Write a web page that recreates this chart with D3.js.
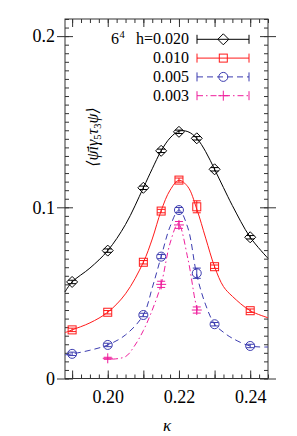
<!DOCTYPE html>
<html>
<head>
<meta charset="utf-8">
<script src="https://cdn.jsdelivr.net/npm/d3@7"></script>
<style>
  body { margin: 0; background: #fff; }
  svg { display: block; }
  svg text { font-family: "Liberation Serif", "DejaVu Serif", serif !important; fill: #000; }
</style>
</head>
<body>
<div id="chart"></div>
<script>
// measured points
var kappa = [0.19, 0.20, 0.21, 0.215, 0.22, 0.225, 0.23, 0.24];
var h020 = [0.0564, 0.0747, 0.1114, 0.1330, 0.1441, 0.1403, 0.1222, 0.0825];
var err020 = [0.001, 0.001, 0.001, 0.001, 0.001, 0.001, 0.001, 0.001];
var h010 = [0.0284, 0.0387, 0.0679, 0.0978, 0.1159, 0.1003, 0.0653, 0.0396];
var err010 = [0.001, 0.001, 0.001, 0.001, 0.0012, 0.0035, 0.001, 0.001];
var h005 = [0.0144, 0.0196, 0.0371, 0.0712, 0.0984, 0.0615, 0.0317, 0.0190];
var err005 = [0.001, 0.001, 0.001, 0.0012, 0.0015, 0.003, 0.001, 0.001];
var kappa003 = [0.20, 0.215, 0.22, 0.225];
var h003 = [0.0118, 0.0550, 0.0897, 0.0400];
var err003 = [0.0006, 0.0018, 0.002, 0.0018];

// fit curves
var fitKappa = [0.188, 0.19, 0.195, 0.20, 0.205, 0.21, 0.2125, 0.215, 0.2175, 0.22,
                0.2225, 0.225, 0.2275, 0.23, 0.2325, 0.235, 0.24, 0.245];
var fit020 = [0.0506, 0.0564, 0.0645, 0.0747, 0.0900, 0.1114, 0.1225, 0.1330, 0.1405, 0.1445,
              0.1442, 0.1403, 0.1325, 0.1222, 0.1115, 0.1010, 0.0825, 0.0702];
var fit010 = [0.0268, 0.0284, 0.0325, 0.0387, 0.0495, 0.0679, 0.0815, 0.0980, 0.1100, 0.1158,
              0.1120, 0.0990, 0.0820, 0.0653, 0.0537, 0.0480, 0.0396, 0.0355];
var fit005 = [0.0138, 0.0144, 0.0165, 0.0196, 0.0255, 0.0371, 0.0530, 0.0712, 0.0887, 0.0984,
              0.0880, 0.0605, 0.0430, 0.0317, 0.0270, 0.0235, 0.0190, 0.0184];
var fitKappa003 = [0.2012, 0.205, 0.2075, 0.21, 0.2125, 0.215, 0.2175, 0.2198, 0.2225, 0.2245, 0.2252];
var fit003 = [0.0113, 0.0128, 0.0190, 0.0280, 0.0400, 0.0550, 0.0790, 0.0905, 0.0700, 0.0460, 0.0400];

var legendLabels = ["h=0.020", "0.010", "0.005", "0.003"];
var xTickLabels = [0.20, 0.22, 0.24];
var yTickLabels = [0, 0.1, 0.2];

var svgWidth = 297;
var svgHeight = 436;
var margin = { top: 19, right: 29, bottom: 57.5, left: 65 };
var width = svgWidth - margin.left - margin.right;
var height = svgHeight - margin.top - margin.bottom;

var svg = d3.select("#chart").append("svg")
  .attr("width", svgWidth)
  .attr("height", svgHeight)
  .attr("font-family", "Liberation Serif");

var chartGroup = svg.append("g")
  .attr("transform", `translate(${margin.left}, ${margin.top})`);

var xScale = d3.scaleLinear().domain([0.188, 0.245]).range([0, width]);
var yScale = d3.scaleLinear().domain([0, 0.21]).range([height, 0]);

// ticks
var xMinor = d3.range(0.19, 0.2451, 0.0025);
var xMajor = d3.range(0.19, 0.2451, 0.01);
var yMinor = d3.range(0, 0.2101, 0.005);
var yMajor = [0, 0.1, 0.2];

function tickAxis(axis, g) {
  g.call(axis);
  g.select(".domain").remove();
  g.selectAll("line").attr("stroke", "#333").attr("stroke-width", 1);
  g.selectAll("text").remove();
}

// bottom / top
tickAxis(d3.axisBottom(xScale).tickValues(xMinor).tickSize(-4),
  chartGroup.append("g").attr("transform", `translate(0, ${height})`));
tickAxis(d3.axisBottom(xScale).tickValues(xMajor).tickSize(-8),
  chartGroup.append("g").attr("transform", `translate(0, ${height})`));
tickAxis(d3.axisTop(xScale).tickValues(xMinor).tickSize(-4), chartGroup.append("g"));
tickAxis(d3.axisTop(xScale).tickValues(xMajor).tickSize(-8), chartGroup.append("g"));

// left / right
tickAxis(d3.axisLeft(yScale).tickValues(yMinor).tickSize(-4), chartGroup.append("g"));
tickAxis(d3.axisLeft(yScale).tickValues(yMajor).tickSize(-8), chartGroup.append("g"));
tickAxis(d3.axisLeft(yScale).tickValues(yMajor).tickSize(8), chartGroup.append("g"));
tickAxis(d3.axisRight(yScale).tickValues(yMinor).tickSize(-4),
  chartGroup.append("g").attr("transform", `translate(${width}, 0)`));
tickAxis(d3.axisRight(yScale).tickValues(yMajor).tickSize(-8),
  chartGroup.append("g").attr("transform", `translate(${width}, 0)`));
tickAxis(d3.axisRight(yScale).tickValues(yMajor).tickSize(8),
  chartGroup.append("g").attr("transform", `translate(${width}, 0)`));

// tick labels
var xLab = chartGroup.append("g")
  .attr("transform", `translate(0, ${height})`)
  .call(d3.axisBottom(xScale).tickValues(xTickLabels).tickSize(0).tickPadding(12)
    .tickFormat(d3.format(".2f")));
xLab.select(".domain").remove();
xLab.attr("font-family", null).attr("font-size", null);
xLab.selectAll("text").style("font-size", "18px");

var yLab = chartGroup.append("g")
  .call(d3.axisLeft(yScale).tickValues(yTickLabels).tickSize(0).tickPadding(10)
    .tickFormat(d => d === 0 ? "0" : d3.format(".1f")(d)));
yLab.select(".domain").remove();
yLab.attr("font-family", null).attr("font-size", null);
yLab.selectAll("text").style("font-size", "18px");

// frame
chartGroup.append("rect")
  .attr("width", width).attr("height", height)
  .attr("fill", "none").attr("stroke", "#333").attr("stroke-width", 1);

var series = [
  { k: kappa, v: h020, e: err020, fk: fitKappa, fv: fit020, color: "#000", dash: null, mark: "diamond" },
  { k: kappa, v: h010, e: err010, fk: fitKappa, fv: fit010, color: "#ff1a1a", dash: null, mark: "square" },
  { k: kappa, v: h005, e: err005, fk: fitKappa, fv: fit005, color: "#3c3cb0", dash: "6,4", mark: "circle" },
  { k: kappa003, v: h003, e: err003, fk: fitKappa003, fv: fit003, color: "#ee1e9c", dash: "6,3,1.5,3", mark: "plus" }
];

var line = d3.line()
  .x(d => xScale(d[0]))
  .y(d => yScale(d[1]))
  .curve(d3.curveCatmullRom.alpha(0.5));

function drawMarker(g, type, color) {
  if (type === "diamond") {
    g.append("path").attr("d", "M0,-5.5L5.5,0L0,5.5L-5.5,0Z");
  } else if (type === "square") {
    g.append("rect").attr("x", -4).attr("y", -4).attr("width", 8).attr("height", 8);
  } else if (type === "circle") {
    g.append("circle").attr("r", 4.5);
  } else {
    g.append("path").attr("d", "M-5,0H5M0,-5V5");
  }
  g.selectAll("path,rect,circle")
    .attr("fill", "none").attr("stroke", color).attr("stroke-width", 1);
}

var plot = chartGroup.append("g");
series.forEach(function(s) {
  plot.append("path")
    .datum(d3.zip(s.fk, s.fv))
    .attr("d", line)
    .attr("fill", "none")
    .attr("stroke", s.color)
    .attr("stroke-width", 1)
    .attr("stroke-dasharray", s.dash);

  var pts = plot.selectAll(null)
    .data(d3.zip(s.k, s.v, s.e))
    .enter().append("g");

  // error bars
  pts.append("path")
    .attr("d", function(d) {
      var x = xScale(d[0]), y0 = yScale(d[1] - d[2]), y1 = yScale(d[1] + d[2]);
      return `M${x},${y0}V${y1}M${x - 4},${y0}H${x + 4}M${x - 4},${y1}H${x + 4}`;
    })
    .attr("fill", "none").attr("stroke", s.color).attr("stroke-width", 1);

  pts.each(function(d) {
    var g = d3.select(this).append("g")
      .attr("transform", `translate(${xScale(d[0])}, ${yScale(d[1])})`);
    drawMarker(g, s.mark, s.color);
  });
});

// legend
var legend = svg.append("g");
series.forEach(function(s, i) {
  var y = 39.3 + i * 18.8;
  var row = legend.append("g").attr("transform", `translate(0, ${y})`);
  row.append("text")
    .attr("x", 189).attr("y", 5)
    .attr("text-anchor", "end")
    .style("font-size", "16px")
    .text(legendLabels[i]);
  row.append("path")
    .attr("d", "M197,-4.5V4.5M249,-4.5V4.5")
    .attr("fill", "none").attr("stroke", s.color).attr("stroke-width", 1);
  row.append("path")
    .attr("d", "M197,0H249")
    .attr("stroke", s.color).attr("stroke-width", 1)
    .attr("stroke-dasharray", s.dash);
  var m = row.append("g").attr("transform", "translate(223.3, 0)");
  drawMarker(m, s.mark, s.color);
});
legend.append("text")
  .attr("x", 111).attr("y", 44.3)
  .style("font-size", "16px")
  .text("6");
legend.append("text")
  .attr("x", 119.5).attr("y", 38)
  .style("font-size", "10.5px")
  .text("4");

// axis titles
svg.append("text")
  .attr("x", 167).attr("y", 431)
  .attr("text-anchor", "middle")
  .style("font-size", "17px")
  .style("font-style", "italic")
  .text("κ");

var yTitle = svg.append("text")
  .attr("transform", "translate(98, 137) rotate(-90)")
  .attr("text-anchor", "middle")
  .style("font-size", "16px")
  .style("font-style", "italic");
yTitle.append("tspan").text("⟨ψ̄iγ");
yTitle.append("tspan").attr("dy", 3).style("font-size", "10.5px").style("font-style", "normal").text("5");
yTitle.append("tspan").attr("dy", -3).text("τ");
yTitle.append("tspan").attr("dy", 3).style("font-size", "10.5px").style("font-style", "normal").text("3");
yTitle.append("tspan").attr("dy", -3).text("ψ⟩");
</script>
</body>
</html>
